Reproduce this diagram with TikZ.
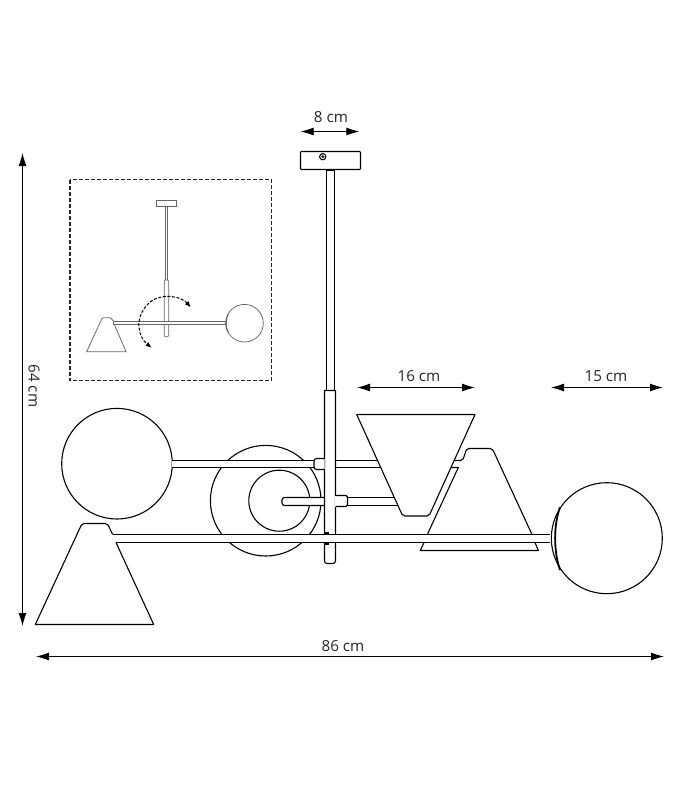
\documentclass[tikz,border=0pt]{standalone}
\usepackage{fontspec}
\setmainfont{Open Sans}
\usepackage{xcolor}
\usetikzlibrary{arrows.meta}
\definecolor{insetgray}{gray}{0.4}
\tikzset{
  lampline/.style={black, line width=1.1pt, line join=round},
  insetline/.style={insetgray, line width=0.75pt},
  dimline/.style={black, line width=0.9pt, {Latex[length=13pt, width=8pt]}-{Latex[length=13pt, width=8pt]}},
  dimlabel/.style={inner sep=0pt, font=\fontsize{15.2}{18}\selectfont, text=black!85}
}

\begin{document}
\begin{tikzpicture}[x=1pt, y=-1pt]
  \useasboundingbox (0,0) rectangle (700,800);

  % dimensions
  \foreach \dimname/\xa/\ya/\xb/\yb/\tx/\ty/\txt in {
      top/300.7/131.5/359.3/131.5/331/117/8 cm,
      shade/357/387.5/475/387.5/419/376/16 cm,
      globe/551/387.5/663/387.5/606/376/15 cm,
      total/36/656.5/664/656.5/343/646/86 cm}
  {
    \coordinate (\dimname A) at (\xa,\ya);
    \coordinate (\dimname B) at (\xb,\yb);
    \draw[dimline] (\dimname A) -- (\dimname B);
    \node[dimlabel] (\dimname Label) at (\tx,\ty) {\txt};
  }
  \coordinate (heightA) at (22.5,153);
  \coordinate (heightB) at (22.5,626);
  \draw[dimline] (heightA) -- (heightB);
  \node[dimlabel, rotate=-90] (heightLabel) at (34,386) {64 cm};

  % inset
  \draw[black!85, line width=1.2pt, dash pattern=on 4pt off 2pt] (70,179.5) rectangle (271.5,380.5);
  \draw[insetline] (156.7,200) rectangle (176.7,206);
  \draw[insetline] (165,206) -- (165,280) (167.7,206) -- (167.7,280);
  \draw[insetline, rounded corners=1pt] (164.3,280) -- (164.3,336.7) -- (168.7,336.7) -- (168.7,280) -- cycle;
  \draw[insetline, fill=white] (113.3,321.3) rectangle (225.7,324.7);
  \draw[insetline] (113.5,321.3) [rounded corners=1pt] -- (110.7,317.7) -- (102.3,317.7) [sharp corners] -- (86.7,351.7) -- (126,351.7) -- (114.5,324.7);
  \draw[insetline] (244.5,323.2) circle (18.8);
  \draw[insetgray, line width=1.1pt] (228,314) .. controls (225.5,320) and (225.5,327) .. (228,332);
  \coordinate (turnA) at (190.7,307.3);
  \coordinate (turnB) at (151.7,347.7);
  \draw[black, line width=1pt, dash pattern=on 3pt off 1.6pt, {Latex[length=6pt, width=5pt]}-{Latex[length=6pt, width=5pt]}]
    (turnA) .. controls (181,296) and (160,292) .. (148,304)
    .. controls (134,318) and (138,337) .. (turnB);

  % back globes
  \draw[lampline, fill=white] (265.7,500.7) circle (55.3);
  \draw[lampline, fill=white] (279.3,500.7) circle (30.5);
  \draw[lampline, fill=white] (117,463.7) circle (55.3);

  % arms behind the stem
  \draw[lampline, fill=white] (172.3,460.5) -- (316,460.5) -- (316,467.5) -- (172.3,467.5);
  \draw[lampline, fill=white, rounded corners=2.5pt] (324.5,497.5) -- (282,497.5) -- (282,505.5) -- (324.5,505.5);
  \draw[lampline] (335.5,460.5) -- (454,460.5) (335.5,467.5) -- (450.7,467.5);
  \draw[lampline] (347,497.5) -- (400,497.5) (347,505.5) -- (400,505.5);

  % right cone
  \draw[lampline, rounded corners=2pt] (454,460.5) -- (462.7,460.5) -- (466.7,448.5) -- (492.3,448.5) -- (532,534.5);
  \draw[lampline] (450.7,467.5) -- (458.3,467.5) -- (427.3,534.5);
  \draw[lampline] (424,542.5) -- (420.3,550.5) -- (538.3,550.5) -- (535,542.5);

  % front cone
  \draw[lampline, fill=white] (356.7,414.5) -- (475,414.5) [rounded corners=2pt] -- (429,516) -- (402.7,516) [sharp corners] -- (356.7,414.5) -- cycle;

  % left cone
  \draw[lampline] (112.7,534.5) [rounded corners=2pt] -- (107.3,523.5) -- (82,523.5) [sharp corners] -- (35.3,624.5) -- (153.7,624.5) -- (116,542.5);

  % canopy and stem
  \draw[lampline, rounded corners=0.8pt, fill=white] (300.5,151.5) rectangle (360.5,169.5);
  \draw[lampline, fill=white] (322.7,156.7) circle (3.1);
  \fill[black] (322.7,156.7) circle (1.5);
  \draw[lampline] (326.5,169.5) -- (326.5,390.5) (334.5,169.5) -- (334.5,390.5);
  \draw[black, line width=1.8pt] (325.5,170.2) -- (335,170.2);
  \draw[lampline, fill=white] (335.5,390.5) -- (324.5,390.5) [rounded corners=2.5pt] -- (324.5,563.5) -- (335.5,563.5) [sharp corners] -- (335.5,390.5) -- cycle;

  % collars
  \draw[lampline, fill=white, rounded corners=2.5pt] (324.5,458.5) -- (314,458.5) -- (314,469.5) -- (324.5,469.5);
  \fill[white] (335,495.5) rectangle (347,506.5);
  \draw[lampline, rounded corners=1.5pt] (335.5,495.5) -- (347.5,495.5) -- (347.5,506.5) -- (335.5,506.5);

  % front arm
  \fill[white] (112.7,534.5) -- (550,534.5) -- (550,542.5) -- (116,542.5) -- cycle;
  \draw[lampline] (112.7,534.5) -- (550,534.5) (116,542.5) -- (550,542.5);
  \draw[black, line width=1.6pt] (324,533.2) -- (329,533.2) (324,543.8) -- (329,543.8);

  % front globe
  \draw[lampline, fill=white] (606.8,538.2) circle (55.5);
  \draw[black, line width=1.8pt] (560,507.3) .. controls (553.5,525) and (553.5,551) .. (560,570);
\end{tikzpicture}
\end{document}
